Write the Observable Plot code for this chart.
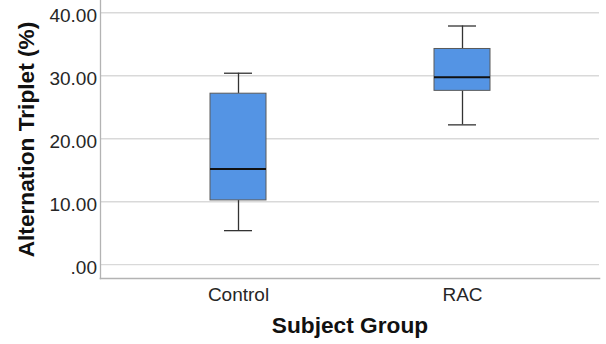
<!DOCTYPE html>
<html>
<head>
<meta charset="utf-8">
<script src="https://cdn.jsdelivr.net/npm/d3@7"></script>
<script src="https://cdn.jsdelivr.net/npm/@observablehq/plot@0.6"></script>
<style>
  html, body { margin: 0; padding: 0; background: #fff; }
  #chart { width: 606px; height: 344px; }
</style>
</head>
<body>
<div id="chart"></div>
<script>
const groups = ["Control", "RAC"];
const whiskerLow = [5.4, 22.2];
const q1 = [10.2, 27.6];
const median = [15.2, 29.75];
const q3 = [27.15, 34.25];
const whiskerHigh = [30.4, 37.9];
const yTicks = [0, 10, 20, 30, 40];
const yTitle = "Alternation Triplet (%)";
const xTitle = "Subject Group";

const rows = groups.map((g, i) => ({
  group: g, lo: whiskerLow[i], q1: q1[i], med: median[i], q3: q3[i], hi: whiskerHigh[i]
}));

const font = "Arial, 'Liberation Sans', Helvetica, sans-serif";
const yDomain = [-2.2, 41.95];

const frameLeft = (() => { try { return Plot.frame({anchor: "left", stroke: "#b3b3b3", strokeWidth: 1.3}); } catch (e) { return null; } })();
const frameBottom = (() => { try { return Plot.frame({anchor: "bottom", stroke: "#b3b3b3", strokeWidth: 1.6}); } catch (e) { return null; } })();

const chart = Plot.plot({
  width: 606,
  height: 344,
  marginLeft: 100,
  marginRight: 7,
  marginTop: 0,
  marginBottom: 66,
  style: {fontFamily: font, background: "#fff"},
  x: {domain: groups, paddingInner: 0.75, paddingOuter: 0.485, label: null},
  y: {domain: yDomain, label: null},
  marks: [
    Plot.ruleY(yTicks, {stroke: "#d9d9d9", strokeWidth: 1.4}),
    frameLeft,
    frameBottom,
    Plot.axisY(yTicks, {
      tickSize: 0, tickPadding: 3.5, fontSize: 19, fill: "#262626", dy: 3.5,
      tickFormat: d => d === 0 ? ".00" : d.toFixed(2), label: null
    }),
    Plot.axisX({tickSize: 0, tickPadding: 9, fontSize: 19, fill: "#262626", label: null}),
    Plot.ruleX(rows, {x: "group", y1: "lo", y2: "q1", stroke: "#333", strokeWidth: 1.3}),
    Plot.ruleX(rows, {x: "group", y1: "q3", y2: "hi", stroke: "#333", strokeWidth: 1.3}),
    Plot.tickY(rows, {x: "group", y: "lo", stroke: "#333", strokeWidth: 1.3, insetLeft: 14, insetRight: 14}),
    Plot.tickY(rows, {x: "group", y: "hi", stroke: "#333", strokeWidth: 1.3, insetLeft: 14, insetRight: 14}),
    Plot.barY(rows, {x: "group", y1: "q1", y2: "q3", fill: "#5494e4", stroke: "#5a5a5a", strokeWidth: 1}),
    Plot.tickY(rows, {x: "group", y: "med", stroke: "#111", strokeWidth: 2}),
    Plot.text([yTitle], {
      text: d => d, frameAnchor: "left", textAnchor: "middle", lineAnchor: "middle",
      rotate: -90, dx: -74,
      fontSize: 22.7, fontWeight: "bold", fill: "#111"
    }),
    Plot.text([xTitle], {
      text: d => d, frameAnchor: "bottom", textAnchor: "middle", lineAnchor: "middle", dy: 47,
      fontSize: 22.7, fontWeight: "bold", fill: "#111"
    })
  ].filter(Boolean)
});
document.getElementById("chart").appendChild(chart);
</script>
</body>
</html>
